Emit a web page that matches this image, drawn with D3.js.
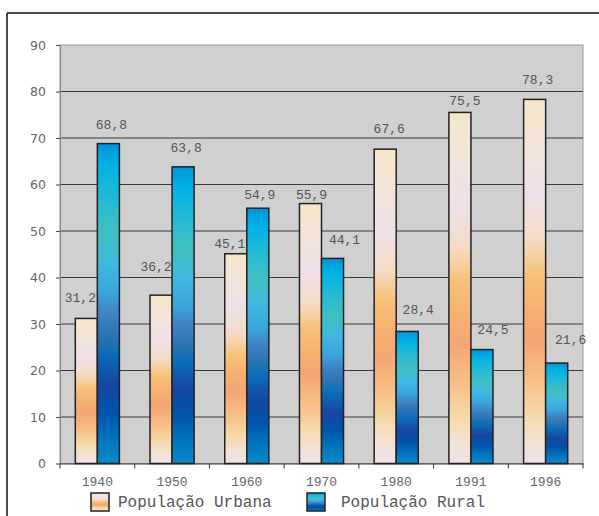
<!DOCTYPE html>
<html>
<head>
<meta charset="utf-8">
<script src="https://cdn.jsdelivr.net/npm/d3@7"></script>
<style>
    body { margin: 0; background: white; }
    svg { display: block; }
</style>
</head>
<body>
<svg id="chart" width="599" height="516"></svg>
<script>
var anos = ["1940", "1950", "1960", "1970", "1980", "1991", "1996"];
var pop_urbana = [31.2, 36.2, 45.1, 55.9, 67.6, 75.5, 78.3];
var pop_rural = [68.8, 63.8, 54.9, 44.1, 28.4, 24.5, 21.6];
var y_ticks = [0, 10, 20, 30, 40, 50, 60, 70, 80, 90];
var series_names = ["População Urbana", "População Rural"];

// nudges for the value labels (the original has them hand placed)
var urbana_label_shift = [[-6, -20], [-5, -28], [-6, -9], [1, -8], [4, -20], [5, -11], [3, -19]];
var rural_label_shift = [[3, -18], [3, -18], [2, -13], [12, -18], [11, -21], [11, -19], [14, -22]];

const PLOT = { left: 60, right: 583, top: 45, bottom: 463.5 };
const MONO = "'Liberation Mono', 'Courier New', monospace";

var svg = d3.select("svg#chart");
var defs = svg.append("defs");

function add_gradient(id, stops) {
    var g = defs.append("linearGradient")
        .attr("id", id)
        .attr("x1", 0).attr("y1", 0)
        .attr("x2", 0).attr("y2", 1);
    g.selectAll("stop")
        .data(stops)
        .join("stop")
        .attr("offset", d => d[0])
        .attr("stop-color", d => d[1]);
}

add_gradient("grad_urbana", [
    [0, "#f6e7c9"], [0.12, "#f3e4d8"], [0.26, "#efe0e8"], [0.38, "#f4dcc8"],
    [0.48, "#f7c27a"], [0.58, "#f5b070"], [0.66, "#f4a676"], [0.77, "#f7bf86"],
    [0.88, "#f6dcb2"], [0.95, "#f2e2da"], [1, "#efe0e8"]
]);
add_gradient("grad_rural", [
    [0, "#0094d6"], [0.07, "#00b2e6"], [0.2, "#2cbcd0"], [0.28, "#40c0c0"],
    [0.38, "#40b8e0"], [0.47, "#3aa4dc"], [0.53, "#4084c4"], [0.6, "#2a74b0"],
    [0.66, "#0a6cb8"], [0.75, "#1646a0"], [0.84, "#0054ac"], [0.93, "#0078c0"],
    [1, "#0a8ac8"]
]);

// outer frame (only top and left lines show)
svg.append("line")
    .attr("x1", 7).attr("y1", 13).attr("x2", 599).attr("y2", 13)
    .style("stroke", "#111").style("stroke-width", 1.5);
svg.append("line")
    .attr("x1", 7).attr("y1", 13).attr("x2", 7).attr("y2", 516)
    .style("stroke", "#111").style("stroke-width", 1.5);

var x = d3.scaleBand()
    .domain(anos)
    .range([PLOT.left, PLOT.right])
    .paddingInner(0.41)
    .paddingOuter(0.205);

var x_step = d3.scaleBand()
    .domain(anos)
    .range([PLOT.left, PLOT.right])
    .padding(0);

var x_sub = d3.scaleBand()
    .domain(["urbana", "rural"])
    .range([0, x.bandwidth()]);

var y = d3.scaleLinear()
    .domain([0, 90])
    .range([PLOT.bottom, PLOT.top]);

// plot background
svg.append("rect")
    .attr("x", PLOT.left)
    .attr("y", PLOT.top)
    .attr("width", PLOT.right - PLOT.left)
    .attr("height", PLOT.bottom - PLOT.top)
    .attr("fill", "#d0d0d0")
    .style("stroke", "#999")
    .style("stroke-width", 1);

// gridlines
svg.append("g")
    .selectAll("line")
    .data(y_ticks.filter(t => t > 0 && t < 90))
    .join("line")
    .attr("x1", PLOT.left).attr("x2", PLOT.right)
    .attr("y1", d => y(d)).attr("y2", d => y(d))
    .style("stroke", "#3a3a3a")
    .style("stroke-width", 1);

// y axis
var y_axis = svg.append("g")
    .attr("transform", "translate(" + PLOT.left + ",0)")
    .call(d3.axisLeft(y).tickValues(y_ticks).tickSize(4).tickPadding(10).tickSizeOuter(0));
y_axis.select(".domain").style("stroke", "#888");
y_axis.selectAll(".tick line").style("stroke", "#444");
y_axis.selectAll(".tick text")
    .style("font-family", "'DejaVu Sans', sans-serif")
    .style("font-size", "12.5px")
    .style("fill", "#666");

// x axis
var x_axis = svg.append("g")
    .attr("transform", "translate(0," + PLOT.bottom + ")")
    .call(d3.axisBottom(x).tickSize(0).tickPadding(13));
x_axis.select(".domain").style("stroke", "#333");
x_axis.selectAll(".tick text")
    .style("font-family", MONO)
    .style("font-size", "13px")
    .style("fill", "#666");

svg.append("g")
    .selectAll("line")
    .data(anos)
    .join("line")
    .attr("x1", d => x_step(d)).attr("x2", d => x_step(d))
    .attr("y1", PLOT.bottom).attr("y2", PLOT.bottom + 5)
    .style("stroke", "#333");
svg.append("line")
    .attr("x1", PLOT.right).attr("x2", PLOT.right)
    .attr("y1", PLOT.bottom).attr("y2", PLOT.bottom + 5)
    .style("stroke", "#333");

var fmt = d3.formatLocale({ decimal: ",", thousands: ".", grouping: [3], currency: ["", ""] }).format(".1f");

var bar_data = [];
anos.forEach(function(ano, i) {
    bar_data.push({ ano: ano, serie: "urbana", valor: pop_urbana[i], shift: urbana_label_shift[i] });
    bar_data.push({ ano: ano, serie: "rural", valor: pop_rural[i], shift: rural_label_shift[i] });
});

var bars = svg.append("g")
    .selectAll("g")
    .data(bar_data)
    .join("g")
    .attr("transform", d => "translate(" + (x(d.ano) + x_sub(d.serie)) + ",0)");

bars.append("rect")
    .attr("x", 0)
    .attr("y", d => y(d.valor))
    .attr("width", x_sub.bandwidth())
    .attr("height", d => y(0) - y(d.valor))
    .attr("fill", d => "url(#grad_" + d.serie + ")")
    .style("stroke", "#222")
    .style("stroke-width", 1.5);

bars.append("text")
    .attr("x", d => x_sub.bandwidth() / 2 + d.shift[0])
    .attr("y", d => y(d.valor) + d.shift[1])
    .attr("text-anchor", "middle")
    .attr("dominant-baseline", "middle")
    .style("font-family", MONO)
    .style("font-size", "13px")
    .style("fill", "#555")
    .text(d => fmt(d.valor));

// legend
var legend = svg.append("g")
    .selectAll("g")
    .data(series_names)
    .join("g")
    .attr("transform", (d, i) => "translate(" + (i == 0 ? 91 : 307) + ",493)");

legend.append("rect")
    .attr("width", 18)
    .attr("height", 18)
    .attr("fill", (d, i) => i == 0 ? "url(#grad_urbana)" : "url(#grad_rural)")
    .style("stroke", "#222")
    .style("stroke-width", 1.5);

legend.append("text")
    .attr("x", (d, i) => i == 0 ? 27 : 34)
    .attr("y", 10)
    .attr("dominant-baseline", "middle")
    .style("font-family", MONO)
    .style("font-size", "16px")
    .style("fill", "#555")
    .text(d => d);
</script>
</body>
</html>
